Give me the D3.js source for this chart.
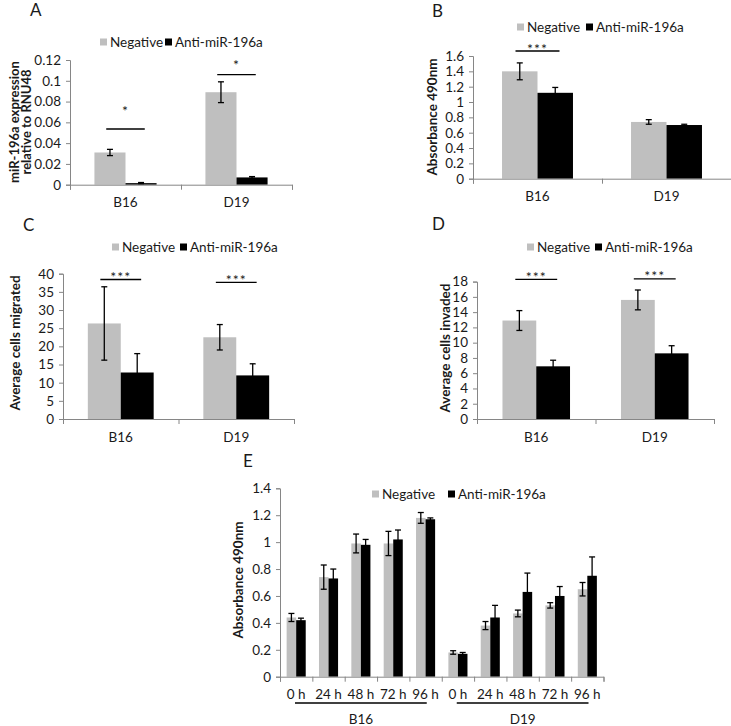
<!DOCTYPE html>
<html><head><meta charset="utf-8">
<script src="https://cdn.jsdelivr.net/npm/d3@7"></script>
<style>
body{margin:0;background:#fff}
svg{display:block}
text{font-family:Lato,"Open Sans",sans-serif;fill:#1a1a1a}
</style>
</head><body>
<svg id="chart" width="731" height="726"></svg>
<script>
// ---------------- data ----------------
const seriesNames = ["Negative", "Anti-miR-196a"];
const cellLines = ["B16", "D19"];
const timepoints = ["0 h", "24 h", "48 h", "72 h", "96 h"];

// Panel A: miR-196a expression relative to RNU48
const aNeg = [0.031, 0.089];
const aNegErr = [0.003, 0.010];
const aAnti = [0.0015, 0.007];
const aAntiErr = [0.0006, 0.0008];
const aTicks = [0, 0.02, 0.04, 0.06, 0.08, 0.1, 0.12];
const aSig = [{cat: "B16", label: "*", line: 0.0536, star: 0.0727}, {cat: "D19", label: "*", line: 0.1059, star: 0.1174}];

// Panel B: Absorbance 490nm
const bNeg = [1.40, 0.74];
const bNegErr = [0.11, 0.03];
const bAnti = [1.12, 0.70];
const bAntiErr = [0.07, 0.01];
const bTicks = [0, 0.2, 0.4, 0.6, 0.8, 1, 1.2, 1.4, 1.6];
const bSig = [{cat: "B16", label: "***", line: 1.665, star: 1.72}];

// Panel C: Average cells migrated
const cNeg = [26.3, 22.5];
const cNegErr = [10.1, 3.5];
const cAnti = [12.8, 12.0];
const cAntiErr = [5.2, 3.2];
const cTicks = [0, 5, 10, 15, 20, 25, 30, 35, 40];
const cSig = [{cat: "B16", label: "***", line: 38.4, star: 39.6}, {cat: "D19", label: "***", line: 37.6, star: 38.8}];

// Panel D: Average cells invaded
const dNeg = [12.9, 15.6];
const dNegErr = [1.3, 1.3];
const dAnti = [6.9, 8.6];
const dAntiErr = [0.8, 1.0];
const dTicks = [0, 2, 4, 6, 8, 10, 12, 14, 16, 18];
const dSig = [{cat: "B16", label: "***", line: 18.29, star: 18.9}, {cat: "D19", label: "***", line: 18.37, star: 18.95}];

// Panel E: Absorbance 490nm over time
const eB16Neg = [0.44, 0.74, 0.99, 0.99, 1.18];
const eB16NegErr = [0.03, 0.09, 0.07, 0.09, 0.04];
const eB16Anti = [0.42, 0.73, 0.98, 1.02, 1.17];
const eB16AntiErr = [0.015, 0.07, 0.04, 0.07, 0.01];
const eD19Neg = [0.18, 0.38, 0.47, 0.53, 0.65];
const eD19NegErr = [0.013, 0.03, 0.025, 0.02, 0.05];
const eD19Anti = [0.17, 0.44, 0.63, 0.60, 0.75];
const eD19AntiErr = [0.01, 0.09, 0.14, 0.07, 0.14];
const eTicks = [0, 0.2, 0.4, 0.6, 0.8, 1, 1.2, 1.4];

// ---------------- drawing ----------------
const COLORS = {"Negative": "#bfbfbf", "Anti-miR-196a": "#000000"};
const AXIS = "#868686";
const svg = d3.select("#chart");
const fmt = v => String(+v.toFixed(2));

function panel(cfg) {
  const g = svg.append("g");
  const x = d3.scaleBand().domain(cfg.cats).range([cfg.x0, cfg.x1]).padding(0);
  const bw = x.bandwidth();
  const sub = d3.scaleBand().domain(seriesNames)
    .range([bw * (1 - cfg.frac) / 2, bw * (1 + cfg.frac) / 2]).padding(0);
  const y = d3.scaleLinear().domain([0, cfg.max]).range([cfg.yb, cfg.yt]);

  const rows = [];
  cfg.cats.forEach((c, i) => {
    rows.push({cat: c, s: seriesNames[0], v: cfg.neg[i], e: cfg.negErr[i]});
    rows.push({cat: c, s: seriesNames[1], v: cfg.anti[i], e: cfg.antiErr[i]});
  });

  // bars
  g.selectAll("rect.bar").data(rows).join("rect")
    .attr("x", d => x(d.cat) + sub(d.s))
    .attr("width", sub.bandwidth())
    .attr("y", d => y(d.v))
    .attr("height", d => y(0) - y(d.v))
    .attr("fill", d => COLORS[d.s]);

  // error bars
  const cap = 3;
  const cxOf = d => x(d.cat) + sub(d.s) + sub.bandwidth() / 2;
  const eb = g.selectAll("g.err").data(rows).join("g")
    .attr("stroke", "#000").attr("stroke-width", 1.3);
  eb.append("line")
    .attr("x1", cxOf).attr("x2", cxOf)
    .attr("y1", d => y(d.v - d.e)).attr("y2", d => y(d.v + d.e));
  eb.append("line")
    .attr("x1", d => cxOf(d) - cap).attr("x2", d => cxOf(d) + cap)
    .attr("y1", d => y(d.v + d.e)).attr("y2", d => y(d.v + d.e));
  eb.append("line")
    .attr("x1", d => cxOf(d) - cap).attr("x2", d => cxOf(d) + cap)
    .attr("y1", d => y(d.v - d.e)).attr("y2", d => y(d.v - d.e));

  // y axis
  const ya = g.append("g").attr("transform", `translate(${cfg.x0},0)`)
    .call(d3.axisLeft(y).tickValues(cfg.ticks).tickSize(4).tickPadding(5).tickFormat(fmt));
  ya.selectAll("path,line").attr("stroke", AXIS);
  ya.selectAll("text").attr("font-size", 13.5).attr("font-family", "Lato,'Open Sans',sans-serif").attr("fill", "#1a1a1a");

  // x axis: boundary ticks
  const n = cfg.cats.length;
  const xb = d3.scaleLinear().domain([0, n]).range([cfg.x0, cfg.x1]);
  const xa = g.append("g").attr("transform", `translate(0,${cfg.yb})`)
    .call(d3.axisBottom(xb).ticks(n).tickSize(5).tickFormat("").tickSizeOuter(5));
  xa.selectAll("path,line").attr("stroke", AXIS);

  // x labels
  const xl = g.append("g").attr("transform", `translate(0,${cfg.yb})`)
    .call(d3.axisBottom(x).tickSize(0).tickPadding(13).tickFormat(cfg.xfmt || (d => d)));
  xl.select(".domain").remove();
  xl.selectAll("text").attr("font-size", 13.5).attr("font-family", "Lato,'Open Sans',sans-serif").attr("fill", "#1a1a1a");

  // significance
  (cfg.sig || []).forEach(s => {
    const cx = x(s.cat) + bw / 2;
    const half = bw * cfg.frac / 2 * 0.62;
    g.append("line").attr("x1", cx - half).attr("x2", cx + half)
      .attr("y1", y(s.line)).attr("y2", y(s.line))
      .attr("stroke", "#000").attr("stroke-width", 1.3);
    g.append("text").attr("x", cx).attr("y", y(s.star) + 7)
      .attr("text-anchor", "middle").attr("font-size", 14).attr("fill", "#333")
      .attr("letter-spacing", 1).text(s.label);
  });

  // y title (one text element per line)
  const nl = cfg.title.length;
  const tfs = cfg.titleSize || 13.5;
  cfg.title.forEach((line, i) => {
    const off = (i - (nl - 1) / 2) * 12.5;
    g.append("text")
      .attr("transform", `translate(${cfg.tx + off + 4.5},${cfg.ty}) rotate(-90)`)
      .attr("text-anchor", "middle").attr("font-weight", "bold").attr("font-size", tfs)
      .text(line);
  });

  // legend
  const lg = g.append("g");
  seriesNames.forEach((s, i) => {
    const lx = cfg.legend[i];
    lg.append("rect").attr("x", lx).attr("y", cfg.ly - 3.5).attr("width", 7).attr("height", 7).attr("fill", COLORS[s]);
    lg.append("text").attr("x", lx + 10).attr("y", cfg.ly + 4.5).attr("font-size", 13.5).text(s);
  });

  // panel letter
  svg.append("text").attr("x", cfg.lx).attr("y", cfg.lyy)
    .attr("font-family", "'Liberation Sans',Arial,sans-serif").attr("font-size", 17).text(cfg.letter);
  return {x, y, g};
}

panel({letter: "A", lx: 30, lyy: 16, cats: cellLines, neg: aNeg, negErr: aNegErr, anti: aAnti, antiErr: aAntiErr,
  ticks: aTicks, max: 0.12, x0: 70, x1: 292, yb: 184.7, yt: 60, frac: 0.56, sig: aSig,
  title: ["miR-196a expression", "relative to RNU48"], titleSize: 13, tx: 20.5, ty: 122, legend: [100, 165], ly: 42});

panel({letter: "B", lx: 432, lyy: 17, cats: cellLines, neg: bNeg, negErr: bNegErr, anti: bAnti, antiErr: bAntiErr,
  ticks: bTicks, max: 1.6, x0: 473, x1: 731, yb: 178.7, yt: 56, frac: 0.55, sig: bSig,
  title: ["Absorbance 490nm"], tx: 432, ty: 117, legend: [517, 586], ly: 27});

panel({letter: "C", lx: 23, lyy: 231, cats: cellLines, neg: cNeg, negErr: cNegErr, anti: cAnti, antiErr: cAntiErr,
  ticks: cTicks, max: 40, x0: 63, x1: 294, yb: 419, yt: 273.7, frac: 0.57, sig: cSig,
  title: ["Average cells migrated"], tx: 15, ty: 343, legend: [112, 180], ly: 247});

panel({letter: "D", lx: 432, lyy: 230, cats: cellLines, neg: dNeg, negErr: dNegErr, anti: dAnti, antiErr: dAntiErr,
  ticks: dTicks, max: 18, x0: 477, x1: 714, yb: 419, yt: 281.6, frac: 0.57, sig: dSig,
  title: ["Average cells invaded"], tx: 445, ty: 348, legend: [527, 595], ly: 247});

const eCats = [];
cellLines.forEach(c => timepoints.forEach(t => eCats.push(c + "|" + t)));
const pe = panel({letter: "E", lx: 243, lyy: 467, cats: eCats,
  neg: eB16Neg.concat(eD19Neg), negErr: eB16NegErr.concat(eD19NegErr),
  anti: eB16Anti.concat(eD19Anti), antiErr: eB16AntiErr.concat(eD19AntiErr),
  ticks: eTicks, max: 1.4, x0: 280, x1: 603.5, yb: 676.7, yt: 488.3, frac: 0.59,
  title: ["Absorbance 490nm"], tx: 238, ty: 580, legend: [372, 448], ly: 494,
  xfmt: d => d.split("|")[1]});

// group labels under E
cellLines.forEach(c => {
  const first = pe.x(c + "|" + timepoints[0]);
  const last = pe.x(c + "|" + timepoints[timepoints.length - 1]) + pe.x.bandwidth();
  pe.g.append("line").attr("x1", first + 15).attr("x2", last - 15)
    .attr("y1", 703).attr("y2", 703).attr("stroke", "#000").attr("stroke-width", 1.3);
  pe.g.append("text").attr("x", (first + last) / 2).attr("y", 724)
    .attr("text-anchor", "middle").attr("font-size", 13.5).text(c);
});
</script>
</body></html>
